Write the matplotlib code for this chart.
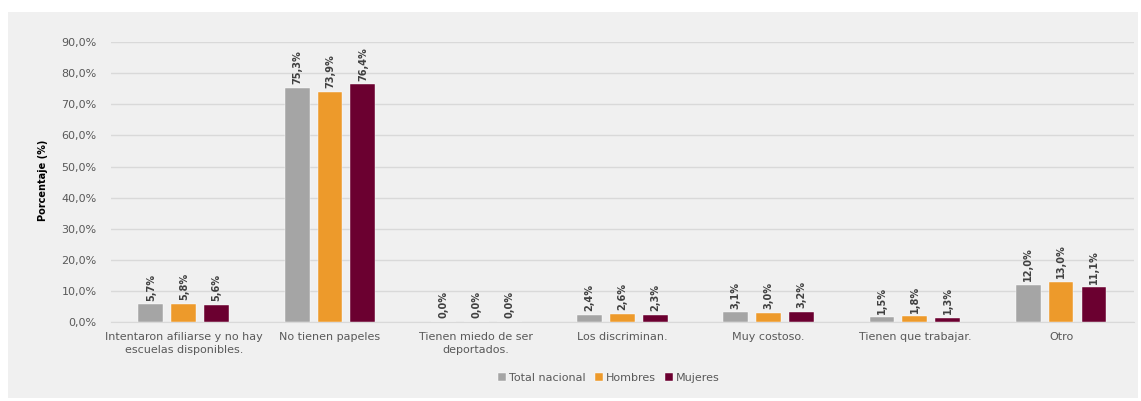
import matplotlib.pyplot as plt
import matplotlib.patches as patches
import numpy as np

categories = ['Intentaron afiliarse y no hay\nescuelas disponibles.', 'No tienen papeles',
              'Tienen miedo de ser\ndeportados.', 'Los discriminan.', 'Muy costoso.',
              'Tienen que trabajar.', 'Otro']
total = [5.7, 75.3, 0.0, 2.4, 3.1, 1.5, 12.0]
hombres = [5.8, 73.9, 0.0, 2.6, 3.0, 1.8, 13.0]
mujeres = [5.6, 76.4, 0.0, 2.3, 3.2, 1.3, 11.1]
series_names = ['Total nacional', 'Hombres', 'Mujeres']
colors = ['#a5a5a5', '#ed9a2b', '#6b0030']
yticks = np.arange(0, 100, 10)

fig = plt.figure(figsize=(11.41, 4.01), dpi=100)
fig.patch.set_facecolor('white')
# grey panel behind the chart
fig.patches.append(patches.Rectangle((0.007, 0.0075), 0.990, 0.963, transform=fig.transFigure,
                                     facecolor='#f0f0f0', edgecolor='none', zorder=-10))

ax = fig.add_axes([0.097, 0.197, 0.897, 0.698])
ax.set_facecolor('#f0f0f0')

x = np.arange(len(categories))
width = 0.17
step = 0.225
for i, (vals, name, c) in enumerate(zip([total, hombres, mujeres], series_names, colors)):
    pos = x + (i - 1) * step
    ax.bar(pos, vals, width, color=c, label=name, zorder=3, edgecolor='white', linewidth=0.3)
    for p, v in zip(pos, vals):
        ax.text(p, v + 1.2, f'{v:.1f}%'.replace('.', ','), rotation=90, ha='center', va='bottom',
                fontsize=7, color='#404040', fontweight='bold')

ax.set_xlim(-0.5, len(categories) - 0.5)
ax.set_ylim(0, 90)
ax.set_yticks(yticks)
ax.set_yticklabels([f'{t:.1f}%'.replace('.', ',') for t in yticks], fontsize=8, color='#595959')
ax.set_xticks(x)
ax.set_xticklabels(categories, fontsize=8, color='#595959', linespacing=1.4)
ax.tick_params(axis='x', length=0, pad=7)
ax.tick_params(axis='y', length=0, pad=10)
ax.grid(axis='y', color='#d9d9d9', linewidth=1, zorder=0)
for s in ax.spines.values():
    s.set_visible(False)
ax.spines['bottom'].set_visible(True)
ax.spines['bottom'].set_color('#d9d9d9')

fig.text(0.038, 0.55, 'Porcentaje (%)', rotation=90, ha='center', va='center',
         fontsize=7, fontweight='bold', color='black')

ax.legend(loc='center', bbox_to_anchor=(0.487, -0.2), ncol=3, frameon=False, fontsize=8,
          handlelength=0.7, handleheight=0.7, handletextpad=0.3, columnspacing=0.8,
          labelcolor='#595959')

fig.savefig('out.png', dpi=100, facecolor='white')
